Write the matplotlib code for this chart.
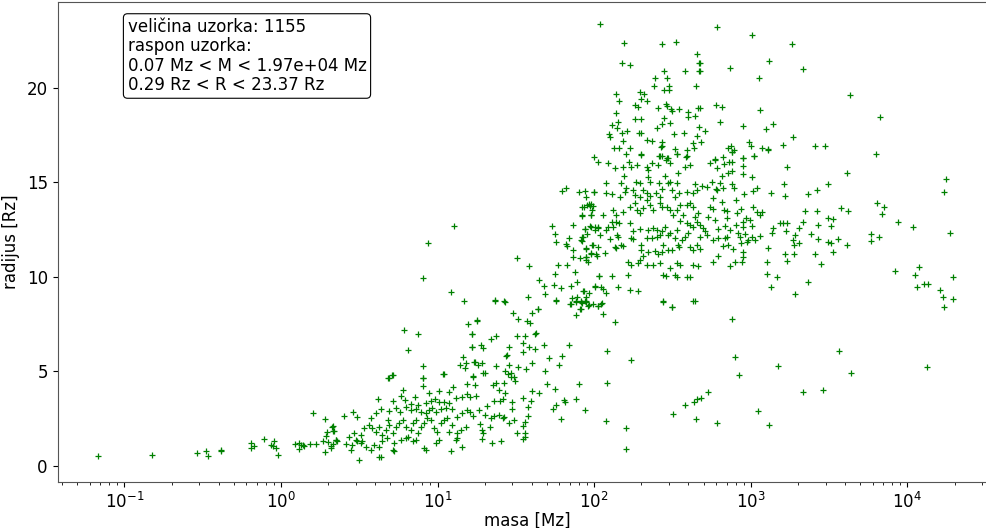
import numpy as np
import matplotlib
matplotlib.use('Agg')
import matplotlib.pyplot as plt

# (log10 masa [Mz], radijus [Rz]) procitano sa slike, po podrucjima
tocke_rep = [
    (-1.169, 0.51), (-0.824, 0.60), (-0.536, 0.70), (-0.476, 0.79), (-0.465, 0.51),
    (-0.384, 0.85), (-0.380, 0.80), (-0.19, 1.21), (-0.19, 0.92), (-0.17, 1.06),
    (-0.11, 1.43), (-0.064, 1.09), (-0.053, 1.04), (-0.043, 1.32), (-0.032, 0.95),
    (-0.017, 0.57), (0.088, 1.18), (0.117, 1.20), (0.128, 1.09), (0.139, 1.11),
    (0.115, 0.91), (0.149, 1.07), (0.186, 1.18), (0.224, 1.18), (0.205, 2.80),
    (0.284, 2.50), (0.267, 1.29), (0.299, 1.27), (0.331, 1.16), (0.352, 1.37),
    (0.284, 0.72), (0.320, 0.93), (0.331, 2.13), (0.292, 1.81), (0.337, 1.85),
    (0.288, 1.59),
]

tocke_gusto = [
    (0.686, 4.63), (0.708, 4.81), (0.904, 4.67), (1.038, 4.86), (1.185, 4.33),
    (0.904, 4.23), (0.946, 3.87), (1.010, 3.96), (1.070, 3.89), (1.099, 4.19),
    (1.187, 3.80), (0.782, 4.01), (0.765, 3.71), (0.793, 3.49), (0.718, 3.45),
    (0.854, 3.66), (0.622, 3.52), (0.827, 3.26), (0.878, 3.22), (0.925, 3.31),
    (0.957, 3.45), (0.984, 3.52), (1.006, 3.40), (1.042, 3.40), (1.074, 3.31),
    (1.116, 3.61), (1.159, 3.66), (0.403, 2.66), (0.460, 2.87), (0.484, 2.57),
    (0.605, 2.82), (0.637, 2.99), (0.573, 2.52), (0.686, 2.43), (0.690, 2.92),
    (0.733, 3.05), (0.761, 2.87), (0.797, 3.13), (0.829, 2.96), (0.861, 2.99),
    (0.893, 2.87), (0.925, 2.78), (0.946, 2.96), (0.967, 3.05), (0.989, 2.87),
    (1.021, 2.99), (1.053, 3.08), (1.095, 2.99), (1.127, 2.60), (1.159, 2.78),
    (1.185, 2.96), (0.328, 2.08), (0.333, 1.85), (0.350, 1.37), (0.360, 1.32),
    (0.318, 1.06), (0.414, 1.16), (0.435, 1.55), (0.467, 1.73), (0.477, 1.37),
    (0.509, 1.64), (0.520, 1.29), (0.531, 1.99), (0.563, 2.17), (0.584, 1.99),
    (0.605, 1.81), (0.627, 2.08), (0.648, 1.64), (0.669, 1.90), (0.690, 2.17),
    (0.712, 1.73), (0.733, 2.08), (0.754, 2.25), (0.776, 2.43), (0.797, 2.08),
    (0.808, 1.55), (0.829, 1.90), (0.840, 2.25), (0.861, 2.43), (0.872, 1.73),
    (0.893, 2.08), (0.914, 2.25), (0.935, 2.52), (0.957, 2.43), (0.978, 1.99),
    (0.999, 1.81), (1.021, 2.25), (1.042, 2.43), (1.063, 2.52), (1.074, 1.81),
    (1.095, 2.17), (1.127, 1.73), (1.148, 1.90), (1.180, 2.08), (0.445, 0.85),
    (0.456, 1.11), (0.488, 1.29), (0.509, 1.20), (0.541, 1.02), (0.573, 0.85),
    (0.595, 1.11), (0.627, 1.02), (0.648, 1.29), (0.680, 1.46), (0.712, 0.85),
    (0.722, 1.20), (0.765, 1.37), (0.797, 1.46), (0.840, 1.29), (0.861, 1.37),
    (0.914, 0.93), (0.925, 0.85), (0.989, 1.20), (1.010, 1.37), (1.116, 1.37),
    (1.127, 1.46), (0.499, 0.29), (0.627, 0.49), (0.637, 0.46), (0.722, 0.81),
    (1.085, 0.76), (1.159, 0.99),
]

tocke_uspon = [
    (1.107, 12.69), (0.941, 11.77), (0.904, 9.92), (1.086, 9.20), (1.171, 8.72),
    (1.250, 7.69), (1.192, 7.51), (0.783, 7.16), (0.872, 6.98), (1.218, 6.98),
    (0.808, 6.14), (1.218, 6.31), (1.160, 5.73), (1.143, 5.34), (1.182, 5.43),
    (1.177, 5.17), (1.241, 5.48), (0.909, 5.26), (0.712, 4.81), (0.691, 4.64),
    (1.036, 4.87), (1.224, 4.73), (0.904, 4.64),
    (1.369, 8.74), (1.431, 8.68), (1.753, 8.74), (1.854, 8.56), (1.886, 8.68),
    (1.918, 8.68), (1.950, 8.68), (1.918, 8.28), (1.881, 7.98), (1.480, 8.07),
    (1.602, 8.10), (1.640, 8.28), (1.512, 7.75), (1.572, 7.68), (1.587, 7.57),
    (1.250, 7.68), (1.220, 6.97), (1.374, 6.89), (1.342, 6.69), (1.508, 6.89),
    (1.555, 6.89), (1.619, 6.97), (1.630, 7.03), (1.544, 6.52), (1.220, 6.30),
    (1.278, 6.39), (1.288, 6.22), (1.459, 6.27), (1.583, 6.30), (1.619, 6.20),
    (1.677, 6.39), (1.839, 6.39), (1.544, 6.04), (1.438, 5.81), (1.442, 5.86),
    (1.709, 5.69), (1.796, 5.81), (1.235, 5.51), (1.256, 5.34), (1.284, 5.42),
    (1.374, 5.28), (1.455, 5.34), (1.602, 5.42), (1.775, 5.34), (1.512, 5.20),
    (1.566, 5.13), (1.431, 5.04), (1.470, 4.93), (1.288, 4.90), (1.305, 4.90),
    (1.448, 4.86), (1.491, 4.72), (1.685, 5.00), (1.224, 4.68), (1.470, 4.68),
    (1.495, 4.49), (1.352, 4.28), (1.374, 4.37), (1.427, 4.37), (1.241, 4.28),
    (1.698, 4.31), (1.901, 4.31), (1.395, 4.02), (1.433, 3.84), (1.600, 3.98),
    (1.645, 3.84), (1.751, 4.07), (1.246, 3.70), (1.544, 3.61), (1.209, 3.63),
    (1.363, 3.45), (1.399, 3.45), (1.416, 3.52), (1.598, 3.43), (1.476, 3.36),
    (1.809, 3.49), (1.813, 3.36), (1.881, 3.52), (1.316, 3.17), (1.576, 3.10),
    (1.267, 2.96), (1.209, 2.87), (1.476, 2.99), (1.753, 3.21), (1.736, 2.99),
    (1.941, 2.94), (1.224, 2.61), (1.305, 2.69), (1.342, 2.55), (1.363, 2.61),
    (1.391, 2.69), (1.416, 2.52), (1.427, 2.57), (1.491, 2.43), (1.576, 2.64),
    (1.555, 2.34), (1.790, 2.48), (1.459, 2.29), (1.271, 2.20), (1.335, 2.04),
    (1.544, 2.11), (1.284, 1.90), (1.293, 1.73), (1.508, 1.73), (1.561, 1.76),
    (1.561, 1.55), (1.284, 1.41), (1.405, 1.34), (1.544, 1.41), (1.346, 1.20),
]

tocke_sredina = [
    (1.999, 16.35), (2.024, 16.08), (1.794, 14.55), (1.822, 14.69), (1.901, 14.46),
    (1.950, 14.23), (1.996, 14.50), (1.965, 13.83), (1.982, 13.83), (1.935, 13.67),
    (1.986, 13.53), (1.922, 13.23), (1.977, 13.27), (1.730, 12.67), (1.864, 12.72),
    (1.943, 12.51), (1.971, 12.69), (2.003, 12.65), (2.024, 12.60), (1.751, 12.26),
    (1.954, 12.26), (1.839, 12.03), (1.928, 12.09), (1.922, 11.91), (1.758, 11.84),
    (1.822, 11.73), (1.828, 11.61), (1.864, 11.43), (1.986, 11.68), (1.950, 11.49),
    (2.024, 11.56), (1.982, 11.19), (1.864, 11.06), (1.907, 10.98), (1.950, 11.06),
    (2.018, 11.10), (1.508, 10.99), (1.583, 10.54), (1.768, 10.62), (1.828, 10.62),
    (1.960, 10.77), (1.747, 10.13), (1.877, 10.24), (2.028, 10.06), (1.645, 9.80),
    (1.677, 9.52), (1.745, 9.55), (1.785, 9.39), (1.854, 9.53), (1.890, 9.71),
    (2.003, 9.52), (1.689, 9.09), (1.576, 8.95), (1.753, 8.79), (1.856, 8.86),
    (1.890, 8.95), (1.932, 9.22), (1.965, 9.16), (1.369, 8.78), (1.427, 8.69),
    (1.847, 8.56), (1.886, 8.69), (1.913, 8.69), (1.943, 8.69), (1.965, 8.48),
    (2.024, 8.46), (1.640, 8.28), (1.907, 8.28),
]

tocke_vrh = [
    (2.039, 23.37), (2.191, 22.33), (2.430, 22.30), (2.521, 22.42), (2.178, 21.31),
    (2.227, 21.19), (2.654, 21.77), (2.669, 21.31), (2.444, 20.87), (2.579, 20.89),
    (2.669, 20.87), (2.468, 20.53), (2.391, 20.48), (2.381, 20.08), (2.447, 19.87),
    (2.479, 20.08), (2.479, 19.87), (2.649, 20.08), (2.142, 19.65), (2.291, 19.74),
    (2.319, 19.64), (2.297, 19.39), (2.340, 19.30), (2.159, 19.30), (2.259, 19.07),
    (2.280, 18.95), (2.457, 19.11), (2.466, 19.02), (2.408, 18.90), (2.489, 18.84),
    (2.500, 18.76), (2.543, 18.84), (2.600, 18.72), (2.643, 18.51), (2.596, 18.42),
    (2.664, 18.90), (2.137, 18.63), (2.263, 18.32), (2.297, 18.32), (2.447, 18.40),
    (2.152, 18.19), (2.114, 18.02), (2.436, 18.05), (2.487, 18.10), (2.402, 17.84),
    (2.146, 17.84), (2.212, 17.72), (2.178, 17.61), (2.284, 17.61), (2.302, 17.61),
    (2.575, 17.61), (2.095, 17.54), (2.099, 17.40), (2.511, 17.52), (2.658, 17.44),
    (2.669, 17.93), (2.334, 17.22), (2.370, 17.19), (2.430, 17.14), (2.184, 17.19),
    (2.628, 17.08), (2.127, 16.82), (2.157, 16.82), (2.231, 16.82), (2.425, 16.87),
    (2.436, 16.93), (2.515, 16.73), (2.590, 16.70), (2.639, 16.82), (2.206, 16.47),
    (2.297, 16.47), (2.415, 16.38), (2.430, 16.38), (2.466, 16.26), (2.530, 16.47),
    (2.585, 16.35),
]

tocke_jezgra = [
    (2.088, 16.03), (2.131, 15.73), (2.184, 15.82), (2.223, 16.08), (2.238, 15.82),
    (2.276, 15.91), (2.297, 16.44), (2.334, 15.82), (2.344, 15.64), (2.366, 16.00),
    (2.408, 15.91), (2.423, 16.38), (2.457, 16.17), (2.472, 16.26), (2.483, 16.00),
    (2.526, 16.49), (2.536, 15.47), (2.579, 15.82), (2.590, 16.38), (2.611, 15.91),
    (2.191, 15.33), (2.270, 15.03), (2.291, 14.94), (2.344, 15.29), (2.355, 15.03),
    (2.415, 14.94), (2.451, 15.33), (2.472, 14.94), (2.483, 15.03), (2.526, 14.94),
    (2.643, 14.90), (2.078, 14.94), (2.174, 14.94), (1.939, 14.55), (1.997, 14.50),
    (2.073, 14.41), (2.116, 14.38), (2.163, 14.23), (2.195, 14.50), (2.206, 14.67),
    (2.248, 14.59), (2.259, 14.32), (2.291, 14.23), (2.312, 14.59), (2.334, 14.41),
    (2.355, 14.27), (2.393, 14.45), (2.419, 14.23), (2.436, 14.62), (2.494, 14.59),
    (2.515, 14.23), (2.543, 14.41), (2.590, 14.50), (2.632, 14.41), (2.654, 14.59),
    (1.924, 13.71), (1.954, 13.79), (1.971, 13.74), (1.992, 13.74), (1.982, 13.27),
    (1.924, 13.27), (2.056, 13.27), (2.120, 13.53), (2.142, 13.27), (2.184, 13.44),
    (2.227, 13.71), (2.259, 13.88), (2.274, 13.53), (2.291, 13.35), (2.312, 13.62),
    (2.334, 14.06), (2.355, 13.79), (2.376, 13.53), (2.419, 13.88), (2.436, 13.71),
    (2.462, 13.71), (2.483, 13.53), (2.504, 13.27), (2.526, 13.53), (2.547, 13.79),
    (2.568, 13.27), (2.590, 13.79), (2.611, 13.88), (2.632, 13.71), (2.643, 13.18),
    (2.664, 13.35), (2.116, 12.91), (2.137, 12.91),
    (1.939, 12.51), (1.982, 12.65), (2.003, 12.47), (2.024, 12.65), (2.073, 12.47),
    (2.088, 12.61), (2.120, 12.65), (2.159, 12.83), (2.227, 12.83), (2.248, 12.44),
    (2.291, 12.53), (2.344, 12.47), (2.376, 12.56), (2.402, 12.47), (2.430, 12.39),
    (2.451, 12.61), (2.483, 12.30), (2.526, 12.47), (2.547, 12.97), (2.590, 12.83),
    (2.611, 12.74), (2.632, 12.65), (2.654, 12.91), (2.035, 12.21), (2.146, 12.21),
    (1.924, 12.12), (2.334, 12.03), (2.366, 12.03), (2.398, 12.12), (2.419, 12.21),
    (2.472, 12.21), (2.515, 12.03), (2.579, 12.12), (2.600, 12.30),
    (1.918, 11.95), (1.950, 11.50), (1.992, 11.68), (1.982, 11.24), (2.014, 11.21),
    (2.099, 11.98), (2.152, 12.09), (2.174, 11.68), (2.184, 11.63), (2.131, 11.59),
    (2.142, 11.50), (2.238, 12.03), (2.248, 11.98), (2.302, 11.68), (2.302, 11.42),
    (2.312, 11.10), (2.344, 11.33), (2.387, 11.38), (2.408, 11.21), (2.430, 11.33),
    (2.440, 11.68), (2.472, 11.42), (2.494, 11.42), (2.536, 11.68), (2.543, 11.56),
    (2.558, 11.95), (2.611, 11.59), (2.632, 11.42), (2.654, 11.68), (2.067, 11.24),
    (1.950, 11.06),
    (2.216, 10.80), (2.238, 10.62), (2.280, 10.71), (2.291, 10.89), (2.334, 10.62),
    (2.376, 10.62), (2.419, 10.71), (2.483, 10.45), (2.526, 10.71), (2.547, 10.62),
    (2.632, 10.62), (1.945, 10.89), (2.031, 10.04), (2.116, 10.04), (2.216, 10.10),
    (2.440, 10.10), (2.457, 10.04), (2.515, 10.10), (2.526, 9.97), (2.590, 10.01),
    (2.611, 9.97), (2.664, 10.54),
    (2.003, 9.48), (2.046, 9.48), (2.056, 9.34), (2.078, 9.13), (2.152, 9.48),
    (2.227, 9.30), (2.280, 9.27), (1.928, 9.22), (1.950, 8.95), (1.945, 8.69),
    (1.924, 8.60), (1.960, 8.46), (1.992, 8.56), (2.046, 8.56), (2.440, 8.69),
    (2.494, 8.42), (2.643, 8.69),
]

tocke_desno_gore = [
    (2.786, 23.21), (3.010, 22.77), (3.262, 22.30), (2.675, 21.31), (2.675, 20.89),
    (2.865, 21.01), (3.114, 21.42), (3.050, 20.52), (3.334, 20.96), (2.777, 19.06),
    (2.814, 18.95), (3.059, 18.79), (2.675, 18.90), (2.803, 18.16), (2.952, 17.98),
    (3.095, 17.79), (3.144, 18.07), (2.707, 17.72), (2.681, 17.10), (2.991, 17.14),
    (3.001, 16.92), (2.856, 16.82), (2.871, 16.92), (2.882, 16.57), (2.895, 16.70),
    (3.070, 16.82), (3.108, 16.73), (3.208, 16.96), (3.272, 17.40), (3.407, 16.91),
    (3.471, 16.92), (3.023, 16.40), (2.820, 16.31), (2.771, 16.20), (2.952, 16.26),
]

tocke_desno = [
    (2.878, 16.61), (2.952, 16.26), (3.023, 16.40), (3.112, 16.70), (2.739, 16.00),
    (2.771, 16.17), (2.782, 15.73), (2.829, 15.96), (2.863, 16.08), (2.878, 16.08),
    (2.948, 15.85), (3.234, 15.82), (2.856, 15.50), (2.878, 15.61), (2.952, 15.41),
    (3.006, 15.26), (2.814, 15.33), (2.803, 14.97), (2.754, 14.99), (2.878, 14.90),
    (2.686, 14.80), (2.718, 14.76), (2.777, 14.62), (2.785, 14.58), (2.824, 14.67),
    (2.893, 14.67), (3.016, 14.55), (3.038, 14.67), (3.213, 14.90), (3.127, 14.45),
    (2.959, 14.38), (3.221, 14.27), (3.368, 14.38), (3.421, 14.59), (3.492, 14.90),
    (2.760, 14.15), (2.814, 13.97), (2.905, 14.06), (2.739, 13.71), (2.760, 13.57),
    (2.829, 13.53), (2.846, 13.50), (2.910, 13.35), (2.935, 13.57), (3.012, 13.67),
    (3.038, 13.44), (3.070, 13.44), (2.969, 13.09), (2.728, 13.18), (2.771, 13.00),
    (2.846, 13.09), (2.675, 12.74), (2.952, 12.91), (2.995, 13.00), (3.059, 13.27),
    (3.347, 13.48), (3.421, 13.48), (3.492, 13.09), (3.187, 12.83), (3.204, 12.83),
    (3.234, 12.83), (3.336, 12.91), (3.426, 12.74), (2.696, 12.56), (2.707, 12.39),
    (2.792, 12.51), (2.835, 12.69), (2.867, 12.47), (2.905, 12.74), (2.952, 12.65),
    (3.006, 12.69), (3.144, 12.56), (3.138, 12.33), (3.225, 12.44), (3.309, 12.56),
    (2.675, 12.12), (2.722, 12.21), (2.760, 11.95), (2.792, 12.03), (2.835, 12.03),
    (2.846, 12.09), (2.920, 12.30), (2.963, 12.26), (3.006, 12.12), (2.931, 12.09),
    (2.984, 11.95), (3.027, 11.95), (3.059, 12.16), (2.935, 11.77), (2.974, 11.86),
    (3.283, 12.21), (3.385, 12.24), (3.432, 11.98), (3.268, 11.95), (3.279, 11.68),
    (3.309, 11.77), (3.496, 11.86), (2.820, 11.63), (2.856, 11.68), (2.888, 11.45),
    (2.948, 11.33), (3.112, 11.51), (2.675, 11.45), (2.792, 11.10), (2.952, 11.06),
    (2.942, 10.80), (2.899, 10.77), (2.867, 10.57), (2.760, 10.77), (3.106, 10.77),
    (3.219, 11.21), (3.279, 11.21), (3.234, 10.84), (3.407, 11.19), (3.447, 10.68),
    (3.106, 10.15), (3.170, 9.97), (3.129, 9.45), (3.364, 9.71), (3.283, 9.06),
]

tocke_rub = [
    (3.631, 19.60), (3.827, 18.42), (3.797, 16.47), (3.616, 15.50), (4.245, 15.15),
    (4.232, 14.46), (3.806, 13.91), (3.848, 13.67), (3.838, 13.31), (3.575, 13.63),
    (3.618, 13.46), (3.524, 13.07), (3.513, 12.70), (3.940, 12.89), (4.034, 12.65),
    (4.275, 12.33), (3.769, 12.24), (3.818, 12.12), (3.769, 11.89), (3.554, 11.99),
    (3.511, 11.76), (3.614, 11.69), (3.522, 11.29), (3.919, 10.32), (4.072, 10.50),
    (4.049, 10.07), (4.290, 9.97), (4.062, 9.48), (4.109, 9.60), (4.132, 9.60),
    (4.211, 9.30), (4.226, 8.95), (4.294, 8.84), (4.234, 8.42),
]

tocke_dolje = [
    (2.052, 8.59), (2.024, 8.45), (2.056, 8.03), (2.131, 7.63), (2.440, 8.68),
    (2.494, 8.38), (2.632, 8.72), (2.882, 7.75), (2.082, 6.09), (2.233, 5.60),
    (2.901, 5.78), (2.922, 4.79), (3.176, 5.30), (3.566, 6.08), (3.643, 4.90),
    (4.125, 5.23), (2.084, 4.37), (3.336, 3.89), (3.464, 4.00), (2.728, 3.88),
    (2.681, 3.58), (2.654, 3.52), (2.639, 3.40), (2.583, 3.21), (2.504, 2.73),
    (2.649, 2.50), (2.782, 2.29), (3.046, 2.91), (3.114, 2.18), (2.073, 2.36),
    (2.206, 1.99), (2.206, 0.88),
]

sve = np.array(tocke_rep + tocke_gusto + tocke_uspon + tocke_sredina + tocke_vrh
               + tocke_jezgra + tocke_desno_gore + tocke_desno + tocke_rub + tocke_dolje)
masa = 10 ** sve[:, 0]
radijus = sve[:, 1]

tekst = ('veličina uzorka: 1155\n'
         'raspon uzorka:\n'
         '0.07 Mz < M < 1.97e+04 Mz\n'
         '0.29 Rz < R < 23.37 Rz')

plt.rcParams['font.size'] = 12

fig = plt.figure(figsize=(9.87, 5.28), dpi=100)
ax = fig.add_axes([0.0583, 0.0871, 0.951, 0.909])
ax.plot(masa, radijus, '+', color='g', ms=4.5, mew=0.9)
ax.set_xscale('log')
ax.set_xlim(10 ** -1.427, 10 ** 4.567)
ax.set_ylim(-0.854, 24.52)
ax.set_xlabel('masa [Mz]', labelpad=0)
ax.set_ylabel('radijus [Rz]', labelpad=5)
for s in ax.spines.values():
    s.set_color('#555555')
    s.set_linewidth(0.8)

ax.text(0.0746, 0.967, tekst, transform=ax.transAxes, va='top', ha='left',
        linespacing=1.1,
        bbox=dict(boxstyle='round,pad=0.25', facecolor='white', edgecolor='black', linewidth=0.8))

fig.savefig('out.png', dpi=100)
